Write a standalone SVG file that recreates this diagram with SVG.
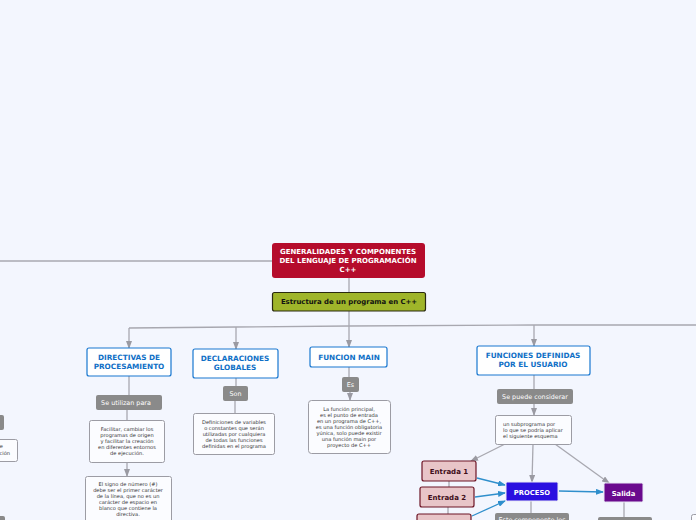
<svg xmlns="http://www.w3.org/2000/svg" width="696" height="520" viewBox="0 0 696 520">
<style>
text{font-family:"DejaVu Sans","Liberation Sans",sans-serif}
.c{fill:none;stroke:#a8a8b0;stroke-width:1.3}
.b{fill:none;stroke:#2f8fcc;stroke-width:1.3}
.t{font-size:7.3px;font-weight:bold;fill:#0f6fc6;text-anchor:middle}
.tn{fill:#fff;stroke:#1877d0;stroke-width:1.2}
.g{fill:#8a8a8a}
.gt{font-size:6.4px;fill:#fff;text-anchor:middle}
.bx{fill:#fbfcff;stroke:#9c9ca4;stroke-width:1}
.s{font-size:5.1px;fill:#333;text-anchor:middle}
.e{fill:#e8c5c8;stroke:#6d1425;stroke-width:1.2}
.et{font-size:7px;font-weight:bold;fill:#3e0d18;text-anchor:middle}
</style>
<defs>
<marker id="ag" markerWidth="8" markerHeight="6" refX="7" refY="3" orient="auto" markerUnits="userSpaceOnUse"><path d="M0,0L8,3L0,6z" fill="#9a9aa2"/></marker>
<marker id="ab" markerWidth="8" markerHeight="6" refX="7" refY="3" orient="auto" markerUnits="userSpaceOnUse"><path d="M0,0L8,3L0,6z" fill="#2f8fcc"/></marker>
</defs>
<rect width="696" height="520" fill="#f3f6fe"/>
<g id="connectors">
<path class="c" d="M0,261H272"/>
<path class="c" d="M349,278V292"/>
<path class="c" d="M349,311V326"/>
<path class="c" d="M129,328L236,327L349,326L534,325L696,325"/>
<path class="c" d="M129,328V348" marker-end="url(#ag)"/>
<path class="c" d="M236,327V349" marker-end="url(#ag)"/>
<path class="c" d="M349,326V347" marker-end="url(#ag)"/>
<path class="c" d="M534,325V346" marker-end="url(#ag)"/>
<path class="c" d="M129,376V395"/>
<path class="c" d="M127,410V420"/>
<path class="c" d="M127,462V476" marker-end="url(#ag)"/>
<path class="c" d="M236,378V386"/>
<path class="c" d="M235,401V413"/>
<path class="c" d="M349,367V377"/>
<path class="c" d="M350,392V400" marker-end="url(#ag)"/>
<path class="c" d="M534,375V389"/>
<path class="c" d="M534,404V415" marker-end="url(#ag)"/>
<path class="c" d="M505,444L471,461" marker-end="url(#ag)"/>
<path class="c" d="M533,444L532,482" marker-end="url(#ag)"/>
<path class="c" d="M555,444L609,483" marker-end="url(#ag)"/>
<path class="c" d="M449,481V487M448,507V514"/>
<path class="c" d="M531,501V513"/>
<path class="c" d="M624,502V517"/>
<path class="b" d="M477,478L505,485" marker-end="url(#ab)"/>
<path class="b" d="M475,497L505,493" marker-end="url(#ab)"/>
<path class="b" d="M472,516L505,501" marker-end="url(#ab)"/>
<path class="b" d="M559,491L603,492" marker-end="url(#ab)"/>
</g>
<g id="main">
<rect x="272" y="243" width="153" height="35" rx="3" fill="#b50c2c"/>
<text x="348" y="254" style="font-size:7px;font-weight:bold;fill:#fff;text-anchor:middle">GENERALIDADES Y COMPONENTES</text>
<text x="348" y="263" style="font-size:7px;font-weight:bold;fill:#fff;text-anchor:middle">DEL LENGUAJE DE PROGRAMACIÓN</text>
<text x="348" y="272" style="font-size:7px;font-weight:bold;fill:#fff;text-anchor:middle">C++</text>
</g>
<g id="estructura">
<rect x="272.5" y="292.5" width="153" height="18.5" rx="2" fill="#9fb52a" stroke="#2a2a10" stroke-width="1.2"/>
<text x="349" y="304" style="font-size:6.9px;font-weight:bold;fill:#111;text-anchor:middle">Estructura de un programa en C++</text>
</g>
<g id="directivas">
<rect class="tn" x="87" y="348" width="84" height="28" rx="2"/>
<text class="t" x="129" y="360">DIRECTIVAS DE</text>
<text class="t" x="129" y="369">PROCESAMIENTO</text>
</g>
<g id="declaraciones">
<rect class="tn" x="193" y="349" width="85" height="29" rx="2"/>
<text class="t" x="235" y="361">DECLARACIONES</text>
<text class="t" x="235" y="370">GLOBALES</text>
</g>
<g id="funcion-main">
<rect class="tn" x="310" y="347" width="77" height="20" rx="2"/>
<text class="t" x="349" y="359.5">FUNCION MAIN</text>
</g>
<g id="funciones-definidas">
<rect class="tn" x="477" y="346" width="113" height="29" rx="2"/>
<text class="t" x="533" y="358">FUNCIONES DEFINIDAS</text>
<text class="t" x="533" y="367">POR EL USUARIO</text>
</g>
<g id="se-utilizan">
<rect class="g" x="96" y="395" width="66" height="15" rx="2"/>
<text class="gt" x="126" y="404.5">Se utilizan para</text>
</g>
<g id="facilitar">
<rect class="bx" x="89.5" y="420.5" width="75" height="42" rx="2"/>
<text class="s" x="127" y="431">Facilitar, cambiar los</text>
<text class="s" x="127" y="437">programas de origen</text>
<text class="s" x="127" y="443">y facilitar la creación</text>
<text class="s" x="127" y="449">en diferentes entornos</text>
<text class="s" x="127" y="455">de ejecución.</text>
</g>
<g id="signo">
<rect class="bx" x="85.5" y="476.5" width="86" height="50" rx="2"/>
<text class="s" x="128" y="486">El signo de número (#)</text>
<text class="s" x="128" y="492">debe ser el primer carácter</text>
<text class="s" x="128" y="498">de la línea, que no es un</text>
<text class="s" x="128" y="504">carácter de espacio en</text>
<text class="s" x="128" y="510">blanco que contiene la</text>
<text class="s" x="128" y="516">directiva.</text>
</g>
<g id="son">
<rect class="g" x="223" y="386" width="25" height="15" rx="2"/>
<text class="gt" x="235.5" y="395.5">Son</text>
</g>
<g id="definiciones">
<rect class="bx" x="193.5" y="413.5" width="81" height="41" rx="2"/>
<text class="s" x="234" y="424">Definiciones de variables</text>
<text class="s" x="234" y="430">o constantes que serán</text>
<text class="s" x="234" y="436">utilizadas por cualquiera</text>
<text class="s" x="234" y="442">de todas las funciones</text>
<text class="s" x="234" y="448">definidas en el programa</text>
</g>
<g id="es">
<rect class="g" x="342" y="377" width="17" height="15" rx="2"/>
<text class="gt" x="350.5" y="386.5">Es</text>
</g>
<g id="funcion-principal">
<rect class="bx" x="308.5" y="400.5" width="82" height="53" rx="3"/>
<text class="s" x="349" y="411">La función principal,</text>
<text class="s" x="349" y="417">es el punto de entrada</text>
<text class="s" x="349" y="423">en un programa de C++,</text>
<text class="s" x="349" y="429">es una función obligatoria</text>
<text class="s" x="349" y="435">yúnica, solo puede existir</text>
<text class="s" x="349" y="441">una función main por</text>
<text class="s" x="349" y="447">proyecto de C++</text>
</g>
<g id="se-puede">
<rect class="g" x="497" y="389" width="76" height="15" rx="2"/>
<text class="gt" x="535" y="398.5">Se puede considerar</text>
</g>
<g id="subprograma">
<rect class="bx" x="495.5" y="415.5" width="76" height="29" rx="2"/>
<text class="s" x="503" y="426" style="text-anchor:start">un subprograma por</text>
<text class="s" x="503" y="432" style="text-anchor:start">lo que se podría aplicar</text>
<text class="s" x="503" y="438" style="text-anchor:start">el siguiente esquema</text>
</g>
<g id="entrada1">
<rect class="e" x="422" y="461" width="54" height="20" rx="2"/>
<text class="et" x="449" y="473.5">Entrada 1</text>
</g>
<g id="entrada2">
<rect class="e" x="420" y="487" width="54" height="20" rx="2"/>
<text class="et" x="447" y="499.5">Entrada 2</text>
</g>
<g id="entrada3">
<rect class="e" x="417" y="514" width="54" height="20" rx="2"/>
</g>
<g id="proceso">
<rect x="506" y="482" width="52" height="19" rx="1.5" fill="#2a10e0" stroke="#e8e8f4" stroke-width="1"/>
<text x="532" y="494.5" style="font-size:6.8px;font-weight:bold;fill:#fff;text-anchor:middle">PROCESO</text>
</g>
<g id="salida">
<rect x="604" y="483" width="39" height="19" rx="1.5" fill="#6a0a8e" stroke="#e8e8f4" stroke-width="1"/>
<text x="623.5" y="495.5" style="font-size:6.8px;font-weight:bold;fill:#fff;text-anchor:middle">Salida</text>
</g>
<g id="este-componente">
<rect class="g" x="495" y="513" width="74" height="15" rx="2"/>
<text class="gt" x="532" y="522">Este componente los</text>
</g>
<g id="salida-label">
<rect class="g" x="598" y="517" width="54" height="15" rx="2"/>
</g>
<g id="left-partial">
<rect class="g" x="-10" y="415" width="14" height="15" rx="2"/>
<rect class="bx" x="-20.5" y="439.5" width="38" height="22" rx="2"/>
<text class="s" x="3" y="448" style="text-anchor:end">en entornos de</text>
<text class="s" x="10" y="455" style="text-anchor:end">ejecución</text>
<rect class="g" x="-10" y="516" width="15" height="15" rx="2"/>
</g>
<g id="right-partial">
<rect class="bx" x="691.5" y="514.5" width="20" height="20" rx="2"/>
</g>
</svg>
